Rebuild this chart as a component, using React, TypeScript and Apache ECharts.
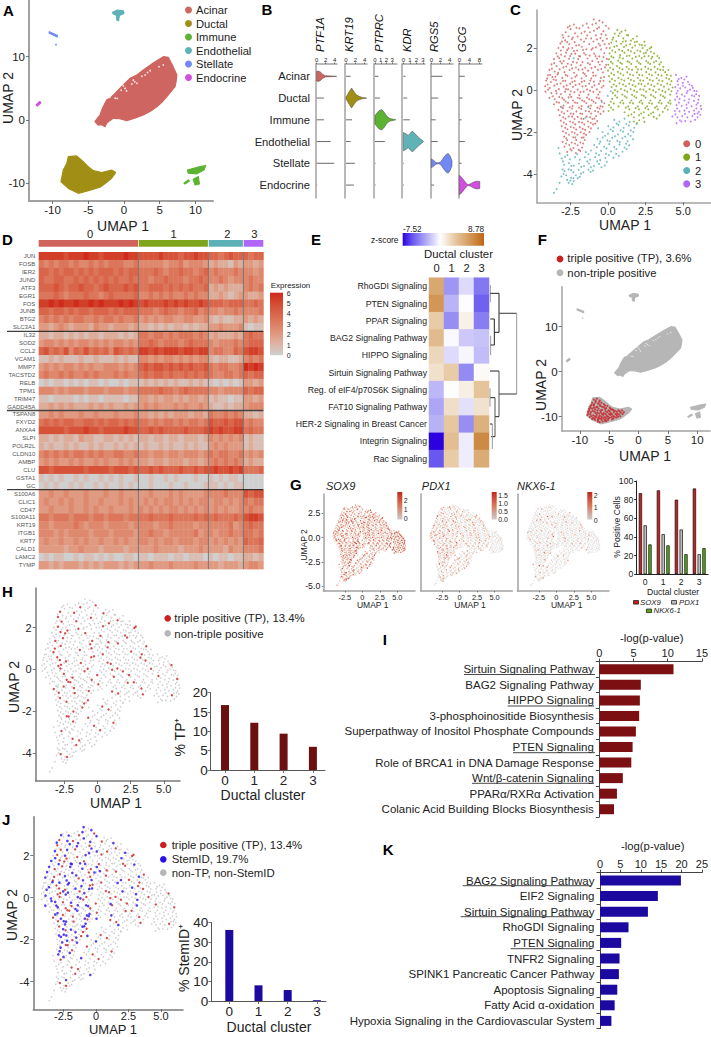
import React, { useEffect, useRef } from "react";
import * as echarts from "echarts";

const FONT = "'Liberation Sans', Arial, sans-serif";

// ---------- data ----------
const atlasNames = ["Acinar", "Ductal", "Immune", "Endothelial", "Stellate", "Endocrine"];
const atlasColors = ["#cf6560", "#a08f14", "#5cb331", "#5fb3b7", "#7289f5", "#d24ee0"];
const acinarOutline = [[-4.07,-0.26],[-3.7,0.3],[-3.36,0.79],[-3.0,1.9],[-2.43,3.16],[-1.9,3.5],[-1.26,4.2],[-0.3,5.3],[0.84,6.58],[1.8,7.1],[2.71,7.9],[4.1,9.0],[5.5,10],[6.2,9.9],[6.8,8.6],[7.4,7.1],[7.3,6.1],[7.15,5.26],[6,3.7],[5.3,2.8],[4.6,2.1],[3.7,1.4],[2.7,0.8],[1.5,0.3],[0.37,-0.1],[-0.6,0.2],[-1.5,0.26],[-2.0,-0.1],[-2.43,-0.53],[-2.66,-1.05],[-3.1,-0.75],[-3.6,-0.8]];
const acinarFlecks = [[1.3,6.3],[1.5,6.05],[0.15,5],[-0.1,5.4],[-0.95,3.4],[-2,3.6],[3.65,7.8],[2.95,7.1],[5.5,8.7],[-1.25,3.45],[1.8,5.8],[3.3,7.5],[0.35,4.6],[2.5,6.9],[4.9,8.4],[1.1,5.7],[-0.4,4.7]];
const ductalOutline = [[-7.8,-5.8],[-6.64,-5.68],[-5.7,-6.58],[-5.0,-7.4],[-4.3,-8],[-3.13,-8.3],[-1.73,-7.9],[-1.17,-8.3],[-1.73,-9.2],[-2.6,-10],[-3.36,-10.63],[-5,-11.16],[-6.4,-11.58],[-7.8,-10.8],[-8.83,-9.74],[-8.5,-7.9],[-8,-6.84]];
const immuneOutlines = [
  [[8.88,-7.9],[10.65,-7.37],[11.45,-7.2],[11.2,-7.9],[10.2,-8.5],[9,-8.4]],
  [[9.7,-9.37],[10.4,-8.95],[10.56,-10.1],[9.95,-10.26]],
  [[8.4,-10],[9,-9.47],[9.16,-9.63],[8.55,-10.1]],
];
const endothelialOutline = [[-1.6,17],[-0.93,17.37],[-0.1,17.26],[0,16.84],[-0.65,16.5],[-0.75,15.68],[-1.03,15.8],[-1.03,16.5],[-1.5,16.74]];
const stellateOutline = [[-10.47,13.95],[-9.35,13.4],[-9.35,13.1],[-10.47,13.7]];
const stellateDot = [[-9.53,11.9]];
const endocrineOutline = [[-12.3,2.4],[-11.8,2.95],[-11.65,2.7],[-12.15,2.2]];

const genesB = ["PTF1A", "KRT19", "PTPRC", "KDR", "RGS5", "GCG"];
const violinProfiles = [
  [[0,0.22],[0.3,0.24],[0.8,0.2],[1.3,0.1],[1.9,0.03],[4.4,0.006]],
  [[0,0.05],[0.3,0.15],[0.7,0.3],[1.2,0.46],[1.7,0.3],[2.2,0.15],[2.8,0.08],[3.5,0.03],[4.4,0.006]],
  [[0,0.2],[0.3,0.3],[0.7,0.42],[1.15,0.47],[1.6,0.35],[2.1,0.15],[2.6,0.06],[3.6,0.006]],
  [[0,0.42],[0.4,0.36],[0.75,0.28],[1.0,0.36],[1.4,0.48],[1.9,0.33],[2.4,0.18],[3.1,0.01]],
  [[0,0.2],[0.5,0.14],[1,0.04],[1.5,0.02],[2,0.05],[2.8,0.3],[3.3,0.42],[3.7,0.45],[4.1,0.33],[4.5,0.12]],
  [[0,0.45],[1,0.35],[2,0.2],[3,0.05],[3.6,0.02],[4.5,0.06],[6,0.15],[7,0.18],[8.2,0.16]],
];
// per gene: [row, tail length]
const violinTails = [
  [[1,1.6],[2,1.6],[3,3.1],[4,3.9],[5,0.1]],
  [[0,1],[2,1.3],[3,1],[4,1.9],[5,1.7]],
  [[0,0.6],[1,0.85],[3,1.7],[4,0.1],[5,0.1]],
  [[0,0.35],[1,0.6],[2,1],[4,0.1],[5,0.1]],
  [[0,2.4],[1,1.5],[2,0.95],[3,1.4],[5,0.6]],
  [[0,2.2],[1,1.3],[2,0.9],[3,2.2],[4,0.9]],
];
const violinTicks = [[0,2,4],[0,2,4],[0,1,2,3],[0,1,2,3],[0,2,4],[0,4,8]];

const cluster0Cells = [-0.95,3.36,-0.58,3.3,-0.8,3.17,-0.36,3.22,-0.14,3.06,-2.55,3.05,-2.27,3.12,-2.1,2.96,-1.68,3.07,-1.42,3.16,-1.04,3.12,-0.6,2.98,
-2.82,2.75,-2.49,2.9,-2.2,2.7,-1.9,2.93,-1.55,2.78,-1.3,2.97,-0.94,2.82,-0.72,2.92,-0.31,2.8,0.04,2.93,-2.98,2.5,-2.63,2.56,-2.4,2.42,-2.02,2.55,-1.8,2.4,-1.38,2.6,-1.12,2.46,-0.81,2.6,-0.5,2.47,-0.15,2.62,
-3.16,2.22,-2.85,2.36,-2.58,2.18,-2.22,2.28,-1.93,2.14,-1.6,2.3,-1.25,2.18,-0.97,2.31,-0.62,2.2,-0.35,2.34,0.06,2.2,-3.3,2.0,-2.98,2.04,-2.72,1.9,-2.38,2.0,-2.06,1.88,-1.74,2.06,-1.44,1.94,-1.1,1.92,-0.8,2.03,-0.46,1.93,-0.1,2.0,
-3.44,1.75,-3.12,1.68,-2.79,1.78,-2.52,1.62,-2.18,1.73,-1.86,1.6,-1.6,1.76,-1.22,1.64,-0.92,1.73,-0.58,1.6,-0.25,1.75,-3.6,1.47,-3.24,1.52,-2.95,1.38,-2.6,1.49,-2.33,1.34,-1.98,1.47,-1.7,1.33,-1.36,1.5,-1.05,1.38,-0.73,1.5,-0.4,1.36,-0.08,1.48,
-3.76,1.22,-3.42,1.14,-3.07,1.27,-2.78,1.12,-2.44,1.2,-2.14,1.07,-1.82,1.18,-1.52,1.06,-1.2,1.22,-0.86,1.1,-0.55,1.2,-0.2,1.08,-3.9,0.96,-3.55,0.88,-3.22,0.99,-2.9,0.85,-2.56,0.95,-2.26,0.82,-1.96,0.97,-1.65,0.82,-1.33,0.92,-1.0,0.83,-0.67,0.96,-0.34,0.84,
-4.0,0.7,-3.7,0.62,-3.35,0.74,-3.04,0.58,-2.7,0.67,-2.42,0.56,-2.08,0.7,-1.76,0.55,-1.46,0.66,-1.12,0.55,-0.82,0.68,-0.47,0.58,-4.12,0.45,-3.8,0.38,-3.46,0.47,-3.15,0.31,-2.84,0.44,-2.52,0.3,-2.22,0.42,-1.9,0.28,-1.58,0.43,-1.26,0.3,-0.94,0.4,-0.6,0.29,-0.3,0.44,
-4.19,0.18,-3.88,0.1,-3.57,0.21,-3.27,0.04,-2.95,0.16,-2.66,0.03,-2.33,0.15,-2.02,0.02,-1.7,0.17,-1.4,0.03,-1.06,0.14,-0.74,0.03,-0.42,0.12,-4.16,-0.08,-3.77,-0.15,-3.46,-0.04,-3.14,-0.2,-2.86,-0.08,-2.54,-0.22,-2.24,-0.1,-1.92,-0.24,-1.62,-0.08,-1.3,-0.22,-0.98,-0.09,-0.65,-0.22,
-3.9,-0.38,-3.55,-0.44,-3.24,-0.33,-2.94,-0.46,-2.62,-0.35,-2.33,-0.5,-2.02,-0.37,-1.72,-0.5,-1.4,-0.36,-1.08,-0.48,-0.76,-0.36,-0.44,-0.5,-3.6,-0.68,-3.26,-0.6,-2.96,-0.74,-2.66,-0.61,-2.36,-0.76,-2.05,-0.62,-1.76,-0.77,-1.44,-0.62,-1.14,-0.74,-0.82,-0.62,-0.5,-0.77,-0.24,-0.63,
-3.3,-0.95,-3.0,-0.86,-2.7,-1.0,-2.4,-0.88,-2.1,-1.02,-1.78,-0.9,-1.49,-1.0,-1.18,-0.88,-0.86,-1.0,-0.56,-0.88,-0.3,-1.02,-3.22,-1.2,-2.92,-1.12,-2.62,-1.26,-2.3,-1.14,-2.02,-1.28,-1.72,-1.14,-1.42,-1.26,-1.12,-1.12,-0.8,-1.24,-0.5,-1.14,
-3.14,-1.46,-2.83,-1.37,-2.53,-1.5,-2.23,-1.38,-1.93,-1.52,-1.63,-1.38,-1.34,-1.5,-1.04,-1.38,-0.72,-1.48,-3.08,-1.72,-2.78,-1.63,-2.48,-1.76,-2.18,-1.64,-1.88,-1.77,-1.58,-1.64,-1.3,-1.75,-1.0,-1.64,-3.0,-1.97,-2.7,-1.87,-2.4,-2.0,-2.12,-1.88,-1.82,-2.02,-1.52,-1.9,-1.24,-2.0,
-2.92,-2.22,-2.6,-2.13,-2.32,-2.25,-2.04,-2.13,-1.74,-2.27,-1.46,-2.14,-3.02,-2.47,-2.72,-2.38,-2.42,-2.5,-2.12,-2.38,-1.84,-2.5,-1.55,-2.38,-2.9,-2.7,-2.58,-2.62,-2.3,-2.76,-2.02,-2.63,-1.73,-2.74,-2.72,-2.95,-2.42,-2.88,-2.14,-3.0,-1.85,-2.9,
-3.02,2.62,-2.68,2.98,-2.34,2.5,-1.77,2.7,-1.21,2.75,-0.44,2.66,-0.07,2.44,-3.07,2.31,-2.71,2.28,-2.12,2.12,-1.47,2.45,-0.74,2.41,-0.23,2.18,-3.14,1.88,-2.63,1.98,-2.27,1.86,-1.67,1.9,-1.02,1.99,-0.53,2.12,-3.35,1.6,-2.87,1.6,-2.44,1.72,-2.08,1.3,-1.49,1.68,-0.83,1.61,-0.3,1.57,-3.58,1.28,-3.18,1.36,-2.68,1.25,-1.94,1.62,-1.34,1.28,-0.64,1.33,-0.12,1.2,-3.73,1.02,-3.32,0.82,-2.97,1.08,-2.39,1.03,-1.7,0.98,-1.1,1.04,-0.45,1.0,-3.86,0.72,-3.5,0.63,-2.82,0.72,-2.17,0.63,-1.55,0.76,-0.98,0.68,-0.26,0.62,-4.05,0.55,-3.62,0.5,-3.0,0.43,-2.38,0.38,-1.75,0.39,-1.18,0.45,-0.52,0.42,-4.02,0.26,-3.38,0.28,-2.75,0.22,-2.16,0.24,-1.48,0.2,-0.9,0.22,-0.31,0.2,-3.98,0.02,-3.42,-0.16,-2.8,0.04,-2.48,-0.06,-1.83,-0.1,-1.2,-0.03,-0.55,-0.1,-3.68,-0.3,-3.05,-0.38,-2.45,-0.33,-1.88,-0.4,-1.26,-0.44,-0.6,-0.4,-3.42,-0.58,-2.82,-0.55,-2.2,-0.6,-1.58,-0.54,-0.96,-0.55,-0.36,-0.8,-3.14,-0.8,-2.55,-0.82,-1.93,-0.84,-1.3,-0.78,-0.7,-0.84,-3.08,-1.05,-2.48,-1.12,-1.85,-1.12,-1.26,-1.02,-0.66,-1.04,-2.98,-1.3,-2.38,-1.27,-1.78,-1.36,-1.2,-1.3,-0.9,-1.36,-2.95,-1.55,-2.34,-1.55,-1.72,-1.55,-1.15,-1.56,-0.85,-1.6,-2.85,-1.8,-2.28,-1.8,-1.68,-1.85,-1.14,-1.83,-2.8,-2.05,-2.22,-2.05,-1.6,-2.08,-2.78,-2.3,-2.18,-2.26,-1.62,-2.26,-2.8,-2.55,-2.2,-2.55,-1.66,-2.55,-2.5,-2.82,-1.95,-2.85];
const cluster1Cells = [0.62,2.86,0.9,2.78,1.16,2.84,0.45,2.68,0.35,2.5,0.7,2.58,1.02,2.46,1.34,2.6,1.66,2.44,1.92,2.56,0.22,2.26,0.55,2.32,0.86,2.2,1.18,2.33,1.46,2.18,1.78,2.28,2.1,2.16,2.42,2.3,0.12,2.0,0.42,2.06,0.74,1.92,1.06,2.05,1.34,1.9,1.62,2.02,1.96,1.88,2.3,2.0,2.62,1.9,2.88,2.04,
0.1,1.74,0.48,1.8,0.8,1.66,1.1,1.78,1.42,1.63,1.76,1.76,2.08,1.62,2.38,1.75,2.7,1.62,3.06,1.74,0.06,1.46,0.36,1.54,0.68,1.4,1.0,1.5,1.3,1.36,1.62,1.5,1.94,1.38,2.24,1.52,2.55,1.38,2.88,1.5,3.2,1.38,3.4,1.52,
0.02,1.2,0.3,1.26,0.6,1.14,0.92,1.25,1.24,1.1,1.54,1.24,1.86,1.1,2.16,1.24,2.48,1.1,2.8,1.24,3.1,1.1,3.42,1.22,3.68,1.1,0.0,0.92,0.34,0.98,0.66,0.86,0.96,0.98,1.28,0.84,1.6,0.96,1.92,0.84,2.22,0.98,2.54,0.85,2.86,0.97,3.16,0.84,3.48,0.96,3.8,0.85,4.02,0.95,
0.06,0.66,0.4,0.72,0.7,0.58,1.02,0.7,1.34,0.56,1.66,0.7,1.98,0.57,2.28,0.7,2.6,0.57,2.92,0.7,3.24,0.56,3.56,0.68,3.88,0.57,4.18,0.68,0.12,0.4,0.46,0.44,0.76,0.32,1.08,0.45,1.4,0.3,1.72,0.43,2.04,0.3,2.34,0.44,2.66,0.3,2.98,0.44,3.3,0.3,3.62,0.42,3.94,0.3,4.22,0.42,
0.24,0.14,0.55,0.18,0.86,0.05,1.18,0.18,1.5,0.04,1.82,0.17,2.14,0.03,2.44,0.18,2.76,0.04,3.08,0.17,3.4,0.03,3.72,0.16,4.04,0.03,4.3,0.12,0.32,-0.14,0.64,-0.08,0.96,-0.22,1.28,-0.08,1.6,-0.23,1.92,-0.1,2.24,-0.24,2.54,-0.08,2.86,-0.23,3.18,-0.1,3.5,-0.24,3.82,-0.1,4.14,-0.22,
0.28,-0.42,0.6,-0.36,0.94,-0.5,1.24,-0.36,1.56,-0.5,1.88,-0.37,2.2,-0.5,2.5,-0.36,2.82,-0.5,3.14,-0.37,3.46,-0.5,3.78,-0.36,4.12,-0.5,0.06,-0.72,0.38,-0.64,0.7,-0.78,1.02,-0.64,1.34,-0.78,1.66,-0.64,1.98,-0.78,2.28,-0.64,2.6,-0.78,2.92,-0.65,3.24,-0.78,3.56,-0.64,3.88,-0.76,4.16,-0.65,
0.04,-1.0,0.34,-0.94,1.1,-1.06,1.42,-0.92,1.74,-1.06,2.06,-0.92,2.38,-1.06,2.68,-0.92,3.0,-1.06,3.32,-0.92,3.64,-1.04,3.98,-0.94,1.36,-1.22,1.72,-1.3,2.06,-1.2,2.36,-1.32,2.7,-1.2,3.04,-1.28,3.42,-1.2,1.72,-1.5,2.08,-1.44,2.42,-1.52,
0.78,2.7,1.25,2.62,1.52,2.35,0.3,2.4,0.98,2.3,1.92,2.3,2.25,2.14,0.58,2.1,1.2,2.12,1.8,2.12,2.46,2.12,2.78,1.98,0.28,1.88,0.95,1.86,1.52,1.84,2.15,1.84,2.52,1.78,2.85,1.82,0.22,1.6,0.78,1.55,1.25,1.62,1.85,1.58,2.42,1.6,2.95,1.58,3.28,1.62,0.2,1.34,0.82,1.3,1.42,1.32,2.05,1.3,2.66,1.3,3.05,1.32,3.52,1.32,0.14,1.06,0.76,1.05,1.38,1.0,1.98,0.98,2.68,1.02,3.3,1.0,3.66,0.95,0.22,0.8,0.84,0.78,1.46,0.74,2.08,0.72,2.74,0.75,3.34,0.72,3.92,0.72,0.26,0.52,0.9,0.5,1.52,0.48,2.14,0.46,2.78,0.48,3.4,0.46,4.06,0.52,0.38,0.26,1.0,0.26,1.64,0.24,2.22,0.28,2.88,0.24,3.52,0.24,4.14,0.26,0.46,0.0,1.1,-0.02,1.74,-0.03,2.36,0.02,3.0,-0.02,3.62,-0.04,4.22,-0.06,0.48,-0.26,1.12,-0.3,1.76,-0.3,2.38,-0.28,3.02,-0.3,3.66,-0.3,0.18,-0.56,0.82,-0.6,1.46,-0.6,2.1,-0.58,2.74,-0.62,3.38,-0.6,4.02,-0.6,0.2,-0.84,1.18,-0.84,1.84,-0.86,2.48,-0.86,3.12,-0.84,3.78,-0.86,1.56,-1.16,2.2,-1.12,2.86,-1.12,3.24,-1.36,1.92,-1.58];
const cluster2Cells = [0.42,-1.42,0.76,-1.5,1.1,-1.36,1.44,-1.52,0.02,-1.72,0.36,-1.78,0.7,-1.66,1.04,-1.8,1.38,-1.7,1.74,-1.8,1.9,-1.62,-0.36,-2.0,0.0,-2.08,0.32,-1.96,0.66,-2.12,1.0,-1.98,1.34,-2.1,1.68,-2.0,-0.7,-2.32,-0.36,-2.26,-0.04,-2.4,0.28,-2.28,0.62,-2.42,0.96,-2.3,1.3,-2.44,1.66,-2.34,
-0.92,-2.62,-0.58,-2.56,-0.26,-2.7,0.08,-2.58,0.42,-2.72,0.76,-2.6,1.1,-2.74,1.4,-2.64,-1.48,-2.96,-1.14,-2.88,-0.8,-3.02,-0.46,-2.9,-0.14,-3.04,0.2,-2.92,0.54,-3.04,0.96,-2.94,-3.3,-2.76,-3.22,-3.02,-3.08,-3.26,-2.86,-3.18,-2.54,-3.3,-2.2,-3.2,-1.88,-3.32,-1.54,-3.2,-1.2,-3.32,-0.86,-3.2,-0.52,-3.34,-0.18,-3.24,0.36,-3.22,
-2.92,-3.56,-2.6,-3.48,-2.28,-3.6,-1.94,-3.5,-1.6,-3.62,-1.28,-3.5,-0.94,-3.62,-0.6,-3.52,-0.22,-3.6,-2.9,-3.86,-2.62,-3.78,-2.3,-3.92,-1.96,-3.8,-1.64,-3.92,-1.3,-3.8,-1.0,-3.84,-3.1,-4.12,-2.78,-4.06,-2.46,-4.18,-2.14,-4.06,-1.88,-4.14,-2.62,-4.42,-2.38,-4.48,-2.28,-4.34,-3.6,-4.9,-3.42,-4.72,-3.22,-4.42,-0.02,-0.28,-0.42,-0.58,0.18,-0.06,-1.5,-1.32,-2.28,1.52,-1.32,-0.82,-3.08,-0.82,-0.66,-1.82,
0.58,-1.6,1.22,-1.62,0.18,-1.88,0.84,-1.92,1.52,-1.92,-0.2,-2.18,0.46,-2.2,1.14,-2.22,1.5,-2.18,-0.52,-2.46,0.12,-2.44,0.78,-2.48,1.2,-2.56,-0.74,-2.72,-0.1,-2.78,0.56,-2.82,1.24,-2.82,-1.3,-3.06,-0.6,-3.1,0.06,-3.1,0.72,-3.14,-2.7,-3.1,-2.05,-3.06,-1.38,-3.4,-0.72,-3.4,-0.08,-3.42,-3.0,-3.4,-2.44,-3.62,-1.78,-3.66,-1.14,-3.68,-0.44,-3.68,-3.02,-3.78,-2.46,-3.82,-1.8,-3.98,-1.16,-3.9,-2.96,-4.0,-2.3,-4.2,-2.72,-4.28,-2.5,-4.32,-2.02,-4.2];
const cluster3Cells = [4.52,0.72,4.88,0.58,5.22,0.64,4.62,0.42,4.98,0.34,5.32,0.38,5.58,0.2,4.48,0.14,4.8,0.08,5.14,0.12,5.46,0.02,5.74,-0.04,4.56,-0.16,4.92,-0.22,5.24,-0.14,5.58,-0.26,5.86,-0.2,4.46,-0.46,4.76,-0.42,5.08,-0.5,5.4,-0.44,5.72,-0.52,6.02,-0.46,4.56,-0.72,4.9,-0.76,5.22,-0.7,5.56,-0.78,5.88,-0.7,6.16,-0.76,4.44,-1.0,4.76,-1.02,5.08,-0.98,5.4,-1.04,5.72,-0.98,6.04,-1.04,6.2,-0.9,4.28,-1.26,4.62,-1.3,4.94,-1.24,5.28,-1.3,5.62,-1.24,5.96,-1.3,6.14,-1.18,4.56,-1.58,4.88,-1.5,5.5,-1.5,5.8,-1.42,
4.7,0.52,5.08,0.5,5.42,0.26,4.66,0.26,4.98,0.2,5.64,0.1,4.64,-0.04,5.3,-0.04,5.9,-0.06,4.6,-0.32,5.1,-0.3,5.74,-0.3,6.06,-0.28,4.72,-0.6,5.36,-0.6,5.98,-0.62,4.6,-0.88,5.24,-0.86,5.88,-0.88,4.48,-1.16,5.12,-1.14,5.76,-1.14,4.78,-1.44,5.14,-1.48,5.96,-1.12];

// cell marks per cluster: 0 neither, 1 triple positive, 2 StemID
const cellStatus = ["2002100200201020012002100202001020020100022010200102002010020210020010200201020010022001020100200120", "000100020000100000010000200100000010002000000100000200010000001000000201000000100020000100", "000001000000200000100000000010000002000100000000100000", "0000001000000000000000100000000000"];
// expression level per cluster, 0 none to 3 high
const sox9Levels = ["2123120213211232210312123112203212131221302132112231021231213221310212213112302122131213212301221321", "123212113220213122131203212311221320121322113021231122132011232121330212211302123121221301", "212103212311201221320122113021213122013212211302123112021321", "2323132233123223132323312232132332213223"];
const pdx1Levels = ["1020112013010210120011020110210031001021101200210110201001021032001201100211020010120102110200113021", "101200110020110012001021001100120010020100102100110020011001020100110021001001002001100010021001", "102100120010200110210012001021001102100102011001200102", "0010000010000001000010000000010000001000"];
const nkx6Levels = ["0010000200100000100000002000100100000030200001000010000020010000001000002000100000010000200000100100", "000010000200001000000100000100002000001000000200010000010000002000001000100000020000100000", "00100002000001000010000002000100000100000020000100", "00000100000020000000100000000100000020"];

const tpPercent = [16.8, 12.2, 9.4, 6];
const stemPercent = [36.3, 8, 5.6, 0.4];
const clusterIds = [0, 1, 2, 3];
const sox9Positive = [87, 90, 80, 92];
const pdx1Positive = [52.5, 43, 48, 21.5];
const nkx6Positive = [32, 31, 21.5, 28];

const heatGenes = ["JUN","FOSB","IER2","JUND","ATF3","EGR1","FOS","JUNB","BTG2","SLC3A1","IL32","SOD2","CCL2","VCAM1","MMP7","TACSTD2","RELB","TPM1","TRIM47","GADD45A","TSPAN8","FXYD2","ANXA4","SLPI","POLR2L","CLDN10","AMBP","CLU","GSTA1","GC","S100A6","CLIC1","CD47","S100A11","KRT19","ITGB1","KRT7","CALD1","LAMC2","TYMP"];
// one digit per column stripe (0-9 is expression 0-6); groups are clusters 0, 1, 2, 3
const heatRows = [
"88888788898878888988 77778777677877 6656766 6566","54545545445454555445 44444344534443 2322132 3323","66565665656566656566 55565455655456 4544454 4434","65566556565656565565 55455655545565 4454344 4544","66676566766567666767 55666565656556 2323222 4545","55565455565545655556 44545454454544 2232123 3223","88989889889898889898 78777878787787 6665666 5565","66566565665666565666 55545655455645 4434454 4445","45454545544545545445 34343443344334 2121122 3232","33234323332433233323 22121212212122 3343334 1011",
"22122121212212221212 55455454555454 2322232 5655","34434343443434344343 55654555456555 4344454 5666","67565746575656476565 88787888788788 4554465 7887","11212111211211121211 44343443434344 2122112 4545","34343443434334443434 67677676767667 5455445 9898","45445454454544454544 56566565565656 5445545 6566","01011010101101001011 12121212112121 1010101 3323","44434344434443444344 55556554565555 4434444 6566","11011110101101111011 33232332323323 1211011 3323","22323232223232322323 34343334343343 2112122 3444",
"33434333433433343334 33232323332332 5445454 2212","56565665566565665656 55454554545545 7667677 4544","77777677787767777877 66767666676667 8787788 5655","22121221322112212121 22122122122212 4343434 1211","21211212112121121212 12112121121211 3434333 1211","45454545545454455445 44344344344434 5455445 3434","34343343433434334343 33233233323323 4545454 2322","77677777767777677767 66767666766767 7877878 5556","10101001010010101001 00100101000100 1010110 0000","01010010100101001010 00100010010001 1101011 0000",
"33433433343334334333 33433343433334 4445444 7677","34334343343343334343 34343443434344 3443434 5455","33433343343433433343 43434344343434 3434334 4544","55455545554554555455 55655565555656 5655565 7887","44344445434443444434 44434454444344 4444534 5655","44434344443444344443 44544344444534 4344544 5545","34334334343343343433 44343443444344 3434343 6556","33333233433323333233 33343333233343 3332433 4445","01011001011010100110 11011101101110 1011011 2212","33232333232323332323 33433343333433 3323332 3443"];

const pathways = ["RhoGDI Signaling","PTEN Signaling","PPAR Signaling","BAG2 Signaling Pathway","HIPPO Signaling","Sirtuin Signaling Pathway","Reg. of eIF4/p70S6K Signaling","FAT10 Signaling Pathway","HER-2 Signaling in Breast Cancer","Integrin Signaling","Rac Signaling"];
const pathwayZ = [[5,-3.5,-1.2,-4.5],[6,-2.5,0,-5.2],[2.8,-3.8,0.8,-4.3],[3.8,-0.2,-1.8,-2],[2.2,-1.2,-0.3,-2.2],[1.7,2.8,-3.9,0.3],[-2.4,0,0.9,3.2],[-3,1.8,-1,1.6],[-2.6,3,-3.8,4.4],[-7.5,3.6,-0.6,6.8],[-5.5,2.8,-0.6,4.8]];

const tripleCells = [-7.6,-6.2,-7.1,-6.0,-6.6,-6.4,-7.9,-6.9,-7.3,-6.8,-6.9,-7.1,-6.3,-6.9,-5.9,-7.2,-8.2,-7.7,-7.6,-7.5,-7.0,-7.8,-6.5,-7.6,-5.9,-7.9,-5.3,-7.6,-4.9,-8.0,-8.4,-8.3,-7.9,-8.2,-7.4,-8.4,-6.8,-8.2,-6.2,-8.5,-5.7,-8.3,-5.1,-8.6,-4.5,-8.4,-4.0,-8.7,-3.4,-8.6,-8.6,-8.9,-8.1,-9.0,-7.5,-8.9,-7.0,-9.1,-6.4,-9.0,-5.9,-9.2,-5.3,-9.0,-4.7,-9.2,-4.2,-9.0,-3.6,-9.3,-3.0,-9.1,-2.5,-9.0,-8.7,-9.6,-8.2,-9.5,-7.7,-9.7,-7.1,-9.6,-6.6,-9.8,-6.0,-9.6,-5.4,-9.8,-4.8,-9.6,-4.3,-9.9,-3.7,-9.7,-3.1,-9.9,-8.3,-10.1,-7.7,-10.3,-7.2,-10.1,-6.6,-10.4,-6.0,-10.2,-5.5,-10.4,-4.9,-10.2,-4.3,-10.4,-3.8,-10.2,-7.4,-10.7,-6.9,-10.8,-6.3,-10.7,-5.7,-10.9,-5.2,-10.7,-6.6,-11.2,-6.1,-11.1,
-7.3,-6.5,-6.7,-6.7,-7.6,-7.2,-6.6,-7.3,-5.7,-7.5,-8.0,-7.4,-7.2,-7.9,-6.2,-7.8,-5.5,-8.1,-4.7,-8.3,-8.2,-8.0,-7.6,-8.0,-7.0,-8.6,-6.5,-8.6,-5.6,-8.8,-4.9,-8.8,-4.3,-8.5,-3.7,-8.9,-3.2,-8.8,-2.8,-8.6,-8.4,-8.7,-7.8,-8.7,-7.3,-9.2,-6.7,-9.3,-6.2,-9.4,-5.6,-9.4,-5.0,-9.4,-4.5,-9.5,-3.9,-9.4,-3.3,-9.5,-2.7,-9.4,-8.5,-9.3,-8.0,-9.9,-7.4,-9.9,-6.8,-10.1,-6.3,-10.0,-5.7,-10.1,-5.2,-10.0,-4.6,-10.1,-4.1,-10.0,-3.5,-10.0,-7.9,-10.5,-7.5,-10.4,-6.9,-10.5,-6.3,-10.4,-5.8,-10.6,-5.1,-10.4,-4.5,-10.6,-6.9,-11.1,-5.5,-11.0];

const pathwaysI = ["Sirtuin Signaling Pathway","BAG2 Signaling Pathway","HIPPO Signaling","3-phosphoinositide Biosynthesis","Superpathway of Inositol Phosphate Compounds","PTEN Signaling","Role of BRCA1 in DNA Damage Response","Wnt/β-catenin Signaling","PPARα/RXRα Activation","Colanic Acid Building Blocks Biosynthesis"];
const valuesI = [10.85,6.07,5.93,5.83,5.35,4.87,4.68,3.44,2.58,2.15];
const pathwaysK = ["BAG2 Signaling Pathway","EIF2 Signaling","Sirtuin Signaling Pathway","RhoGDI Signaling","PTEN Signaling","TNFR2 Signaling","SPINK1 Pancreatic Cancer Pathway","Apoptosis Signaling","Fatty Acid α-oxidation","Hypoxia Signaling in the Cardiovascular System"];
const valuesK = [19.85,14.2,11.76,7,5.2,4.8,4.64,4.24,3.6,2.8];

// ---------- styles ----------
const clusterColors = ["#d0625c", "#7fa51c", "#5cb1b7", "#b066f7"];
const heatStops = ["#cfcfcf", "#dcb6a8", "#e09a82", "#dd7f64", "#d9654a", "#d44a30", "#cf2a1c"];
const exprColors = ["#dddddd", "#e6bcaa", "#d97f62", "#c0331f"];
const zStops: [number, string][] = [[-7.52,"#2a00e0"],[-5.5,"#6a58ef"],[-3.5,"#9f96f4"],[-1.5,"#d5d1fa"],[0,"#ffffff"],[1.5,"#f2e4d2"],[3,"#e6c7a0"],[5,"#d9a870"],[7,"#cb873f"],[8.78,"#bf6518"]];
const AXIS = "#a2a2a2";
const INK = "#222222";
const RED = "#cc1f22";
const GREY = "#b6b6b6";
const BLUE = "#2a10e8";

const pairs = (f: number[]) => { const o: number[][] = []; for (let i = 0; i + 1 < f.length; i += 2) o.push([f[i], f[i + 1]]); return o; };
const zColor = (v: number) => {
  for (let i = 0; i < zStops.length - 1; i++) {
    const [a, ca] = zStops[i], [b, cb] = zStops[i + 1];
    if (v <= b) return echarts.color.lerp(Math.max(0, (v - a) / (b - a)), [ca, cb]);
  }
  return zStops[zStops.length - 1][1];
};

function buildOption() {
  const grid: any[] = [], xAxis: any[] = [], yAxis: any[] = [], series: any[] = [], gfx: any[] = [];
  const txt = (x: number, y: number, text: string, size = 11, o: any = {}) => gfx.push({ type: "text", x, y, rotation: o.rotate || 0, silent: true, z: 50, style: { text, fontSize: size, fontFamily: FONT, fontWeight: o.bold ? "bold" : "normal", fontStyle: o.italic ? "italic" : "normal", fill: o.color || INK, align: o.align || "left", verticalAlign: "middle", textAlign: o.align || "left", textVerticalAlign: "middle" } });
  const dot = (x: number, y: number, fill: string, r = 3.4) => gfx.push({ type: "circle", silent: true, z: 50, shape: { cx: x, cy: y, r }, style: { fill } });
  const seg = (x1: number, y1: number, x2: number, y2: number, stroke = "#222", lineWidth = 1) => gfx.push({ type: "line", silent: true, z: 50, shape: { x1, y1, x2, y2 }, style: { stroke, lineWidth } });
  const gradBar = (x: number, y: number, w: number, h: number, colors: string[], vertical: boolean) => gfx.push({ type: "rect", silent: true, z: 50, shape: { x, y, width: w, height: h }, style: { fill: new echarts.graphic.LinearGradient(0, vertical ? 1 : 0, vertical ? 0 : 1, 0, colors.map((color, i) => ({ offset: i / (colors.length - 1), color }))) } });

  const cart = (o: any) => {
    const i = grid.length;
    grid.push({ left: o.l, top: o.t, width: o.r - o.l, height: o.b - o.t });
    const mk = (ticks: any[], size: number, margin: number, showLine: boolean, tl: number) => {
      const values = ticks.map((k) => k[0]); const map = new Map(ticks.map((k) => [k[0], k[1]]));
      return {
        gridIndex: i, type: "value", splitLine: { show: false },
        axisLine: { show: showLine, onZero: false, lineStyle: { color: o.axis || AXIS, width: o.lw || 1.5 } },
        axisTick: { show: values.length > 0 && tl > 0, customValues: values, length: tl, lineStyle: { color: o.tickColor || "#555", width: 0.8 } },
        axisLabel: { show: values.length > 0, customValues: values, fontSize: size, margin, color: INK, fontFamily: FONT, formatter: (v: number) => String(map.get(v) ?? "") },
      };
    };
    xAxis.push({ ...mk(o.xt || [], o.xf || 11, o.xm ?? 4, o.xLine !== false, o.xtl ?? 3), position: o.xTop ? "top" : "bottom", min: (o.l - o.x0) / o.ux, max: (o.r - o.x0) / o.ux });
    yAxis.push({ ...mk(o.yt || [], o.yf || 11, o.ym ?? 4, o.yLine !== false, o.ytl ?? 3), inverse: !!o.inv, min: o.inv ? (o.t - o.y0) / o.uy : (o.y0 - o.b) / o.uy, max: o.inv ? (o.b - o.y0) / o.uy : (o.y0 - o.t) / o.uy });
    return i;
  };
  const scatter = (g: number, data: number[][], size: number, color: string) => series.push({ type: "scatter", xAxisIndex: g, yAxisIndex: g, data, symbolSize: size, itemStyle: { color }, silent: true });
  const poly = (g: number, outline: number[][], fill: string, stroke = fill, lineWidth = 1.2) => series.push({
    type: "custom", xAxisIndex: g, yAxisIndex: g, coordinateSystem: "cartesian2d", data: outline, silent: true, clip: false,
    renderItem: (p: any, api: any) => p.dataIndex !== 0 ? null : ({ type: "polygon", shape: { points: outline.map((q) => api.coord(q)) }, style: { fill, stroke, lineWidth, lineJoin: "round" } }),
  });
  const letter = (x: number, y: number, s: string) => txt(x, y, s, 15, { bold: true, color: "#000" });

  // ---- A
  const tickA: any[] = [-10, -5, 0, 5, 10].map((v) => [v, String(v)]);
  const ytA: any[] = [-10, 0, 10].map((v) => [v, String(v)]);
  const A = cart({ l: 29, t: 0, r: 213, b: 201, x0: 124, ux: 7.14, y0: 120, uy: 6.33, xt: tickA, yt: ytA, lw: 2, xf: 11.5, yf: 11.5, xm: 3 });
  poly(A, acinarOutline, atlasColors[0]); scatter(A, acinarFlecks, 1.8, "#ffffff");
  poly(A, ductalOutline, atlasColors[1]);
  immuneOutlines.forEach((o) => poly(A, o, atlasColors[2]));
  poly(A, endothelialOutline, atlasColors[3]); poly(A, stellateOutline, atlasColors[4]); scatter(A, stellateDot, 2, atlasColors[4]); poly(A, endocrineOutline, atlasColors[5]);
  atlasNames.forEach((n, i) => { const y = 10 + i * 13.5; dot(188.5, y, atlasColors[i], 3.5); txt(196, y, n, 11.2); });
  txt(7.5, 98, "UMAP 2", 14, { rotate: Math.PI / 2, align: "center" }); txt(123, 226, "UMAP 1", 14, { align: "center" });
  letter(3, 10, "A");

  // ---- B
  const bx = [[316, 337, 316.7, 4.5], [345, 367, 346, 4.67], [374, 397, 375, 5.75], [402, 425, 403.3, 6.5], [430.7, 453, 431.3, 4.6], [458.7, 481.7, 459.3, 2.5]];
  const geneLabelX = [319.5, 349, 378.5, 406.5, 434.3, 462];
  genesB.forEach((gene, k) => {
    const [l, r, x0, ux] = bx[k];
    const g = cart({ l, r, x0, ux, t: 64, b: 198, y0: 76.3, uy: 21.75, inv: true, xTop: true, xt: violinTicks[k].map((v) => [v, String(v)]), xf: 6, xm: 1, xtl: 1.5, lw: 1.5, ytl: 0,
      yt: k === 0 ? atlasNames.map((n, i) => [i, n]) : [], yf: 11.2, ym: 6 });
    const tails = violinTails[k];
    series.push({ type: "custom", xAxisIndex: g, yAxisIndex: g, coordinateSystem: "cartesian2d", data: tails.map((t) => [t[1], t[0]]), silent: true,
      renderItem: (_p: any, api: any) => { const a = api.coord([0, api.value(1)]), b = api.coord([api.value(0), api.value(1)]); return { type: "line", shape: { x1: a[0], y1: a[1], x2: b[0], y2: b[1] }, style: { stroke: "#444", lineWidth: 0.8 } }; } });
    const prof = violinProfiles[k];
    const outline = [...prof.map((q) => [q[0], k - q[1]]), ...[...prof].reverse().map((q) => [q[0], k + q[1]])];
    poly(g, outline, atlasColors[k], "#444", 0.5);
    txt(geneLabelX[k], 52, gene, 11.2, { italic: true, rotate: Math.PI / 2, color: "#111" });
  });
  letter(261.5, 9, "B");

  // ---- UMAP cells
  const cells = [pairs(cluster0Cells), pairs(cluster1Cells), pairs(cluster2Cells), pairs(cluster3Cells)];
  const pick = (codes: string[], wanted: string) => cells.flatMap((c, k) => c.filter((_p, i) => codes[k].charAt(i % codes[k].length) === wanted));
  const tpCells = pick(cellStatus, "1"), stemCells = pick(cellStatus, "2"), restCells = pick(cellStatus, "0");

  // ---- C
  const C = cart({ l: 536.7, t: 10, r: 711, b: 202.3, x0: 608, ux: 15.03, y0: 90, uy: 21, lw: 1.5, xm: 3,
    xt: [[-2.5,"-2.5"],[0,"0.0"],[2.5,"2.5"],[5,"5.0"]], yt: [[2,"2"],[0,"0"],[-2,"-2"],[-4,"-4"]] });
  cells.forEach((c, i) => scatter(C, c, 1.9, clusterColors[i]));
  ["0","1","2","3"].forEach((s, i) => { const y = 143.7 + i * 13.4; dot(686.7, y, clusterColors[i], 3.5); txt(695, y, s, 11.2); });
  txt(517, 115, "UMAP 2", 14, { rotate: Math.PI / 2, align: "center" }); txt(625, 225, "UMAP 1", 14, { align: "center" });
  letter(510, 9, "C");

  // ---- D
  const heatClean = heatRows.map((r) => r.replace(/ /g, ""));
  const nCols = heatClean[0].length;
  const heatData: number[][] = [];
  heatClean.forEach((r, row) => r.split("").forEach((d, c) => heatData.push([c, row, Number(d) * 6 / 9])));
  const D = grid.length;
  grid.push({ left: 38.7, top: 252, width: 224.6, height: 317 });
  xAxis.push({ gridIndex: D, type: "value", min: 0, max: nCols, show: false });
  yAxis.push({ gridIndex: D, type: "category", inverse: true, data: heatGenes, axisLine: { show: false }, axisTick: { show: false }, axisLabel: { interval: 0, fontSize: 6, color: "#555", margin: 3.4, fontFamily: FONT } });
  series.push({ type: "custom", xAxisIndex: D, yAxisIndex: D, coordinateSystem: "cartesian2d", silent: true, data: heatData, encode: { x: 0, y: 1 },
    renderItem: (_p: any, api: any) => {
      const c = api.value(0), a = api.coord([c, api.value(1)]), b = api.coord([c + 1, api.value(1)]), h = api.size([1, 1])[1];
      return { type: "rect", shape: { x: a[0], y: a[1] - h / 2, width: b[0] - a[0] + 0.4, height: h + 0.4 }, style: { fill: echarts.color.lerp(api.value(2) / 6, heatStops) } };
    } });
  [[38.7, 138, "0", 90], [138.7, 207.9, "1", 173.7], [208.7, 242.9, "2", 227.3], [243.7, 263.3, "3", 254.3]].forEach((b: any, i) => {
    gfx.push({ type: "rect", silent: true, z: 50, shape: { x: b[0], y: 240, width: b[1] - b[0], height: 6.7 }, style: { fill: clusterColors[i] } });
    txt(b[3], 233.5, b[2], 11.2, { align: "center" });
  });
  [138.4, 208.4, 243.4].forEach((x) => seg(x, 252, x, 569, "#777", 1));
  seg(7, 331.3, 263.3, 331.3, "#111", 1); seg(7, 410.5, 263.3, 410.5, "#444", 1.4); seg(7, 489.7, 263.3, 489.7, "#111", 1);
  txt(270.7, 285.5, "Expression", 8);
  gradBar(270, 292.7, 13, 62.5, heatStops, true);
  ["6","5","4","3","2","1","0"].forEach((s, i) => txt(286.7, 293 + i * 10.4, s, 7));
  letter(2, 239, "D");

  // ---- E
  const E = grid.length;
  grid.push({ left: 429, top: 277.7, width: 60, height: 189.6 });
  xAxis.push({ gridIndex: E, type: "category", position: "top", data: clusterIds.map(String), axisLine: { show: false }, axisTick: { show: false }, axisLabel: { fontSize: 11.2, margin: 4, color: INK, fontFamily: FONT } });
  yAxis.push({ gridIndex: E, type: "category", inverse: true, data: pathways, axisLine: { show: false }, axisTick: { show: false }, axisLabel: { interval: 0, fontSize: 8.7, margin: 2, color: INK, fontFamily: FONT } });
  const heatSeriesIndex = series.length;
  series.push({ type: "heatmap", xAxisIndex: E, yAxisIndex: E, silent: true, data: pathwayZ.flatMap((r, y) => r.map((v, x) => [x, y, v])) });
  const zRampValues = Array.from({ length: 49 }, (_v, i) => -7.52 + (16.3 * i) / 48);
  const visualMap = [{ type: "continuous", show: false, min: -7.52, max: 8.78, dimension: 2, seriesIndex: heatSeriesIndex, inRange: { color: zRampValues.map(zColor) } }];
  gradBar(402.7, 233, 81.3, 12.7, zRampValues.map(zColor), false);
  txt(403, 229, "-7.52", 8.2); txt(484, 229, "8.78", 8.2, { align: "right" }); txt(398.5, 240, "z-score", 8.4, { align: "right" });
  txt(458.5, 254, "Ductal cluster", 11.4, { align: "center" });
  letter(311, 239, "E");
  const dz = (pts: number[][], stroke = "#222", lineWidth = 1) => gfx.push({ type: "polyline", silent: true, z: 50, shape: { points: pts.map((p) => [300 + p[0] / 3, 225 + p[1] / 3]) }, style: { stroke, lineWidth, fill: "none" } });
  dz([[571,180],[571,232]], "#999"); dz([[571,205],[597,205]]); dz([[597,205],[597,322]]); dz([[571,282],[583,282],[583,322],[597,322]]);
  dz([[572,332],[572,390]], "#999"); dz([[572,360],[583,360],[583,322]]); dz([[597,265],[650,265]], "#555", 1.2); dz([[650,265],[650,507]], "#999"); dz([[597,507],[650,507]], "#555", 1.2);
  dz([[597,438],[597,575]], "#555"); dz([[570,438],[597,438]]); dz([[585,575],[597,575]]); dz([[585,518],[585,635]], "#555"); dz([[570,518],[585,518]]); dz([[570,490],[570,545]], "#999"); dz([[573,635],[585,635]]); dz([[577,597],[577,672]], "#999"); dz([[570,597],[577,597]]);

  // ---- F
  const F = cart({ l: 561.7, t: 286.7, r: 710, b: 431, x0: 638.5, ux: 5.87, y0: 371.7, uy: 4.5, lw: 1.5, xt: tickA, yt: ytA, xf: 11.5, yf: 11.5, xm: 3 });
  poly(F, acinarOutline, GREY); scatter(F, acinarFlecks, 1.2, "#ffffff"); poly(F, ductalOutline, GREY);
  immuneOutlines.forEach((o) => poly(F, o, GREY)); poly(F, endothelialOutline, GREY); poly(F, stellateOutline, GREY); scatter(F, stellateDot, 1.5, GREY); poly(F, endocrineOutline, GREY);
  scatter(F, pairs(tripleCells), 2.2, RED);
  dot(560, 259, RED, 3.4); txt(567.3, 257.8, "triple positive (TP), 3.6%", 11.4);
  dot(560, 272.7, GREY, 3.4); txt(567.3, 273, "non-triple positive", 11.4);
  txt(541, 385, "UMAP 2", 14, { rotate: Math.PI / 2, align: "center" }); txt(645, 456, "UMAP 1", 14, { align: "center" });
  letter(537.7, 239, "F");

  // ---- G
  const levels = [sox9Levels, pdx1Levels, nkx6Levels];
  const geneTitles = ["SOX9", "PDX1", "NKX6-1"];
  const offs = [0, 97.3, 194];
  const bars = [[397.3, ["2","1","0"], [500, 509, 518.3]], [491.7, ["1.5","1.0","0.5","0.0"], [495, 503.3, 511.7, 519]], [587.3, ["2","1","0"], [495.7, 507.7, 520]]] as any[];
  const xtG = [[-2.5,"-2.5"],[0,"0"],[2.5,"2.5"],[5,"5.0"]];
  levels.forEach((lv, k) => {
    const g = cart({ l: 323.3 + offs[k], r: 415 + offs[k], t: 494, b: 591, x0: 362.3 + offs[k], ux: 7, y0: 537.7, uy: 9.7, lw: 1.5, xt: xtG, xf: 7.4, yf: 8.8, xm: 2.5, ym: 3, xtl: 1.5, ytl: k === 0 ? 1.5 : 0,
      yt: k === 0 ? [[2.5,"2.5"],[0,"0.0"],[-2.5,"-2.5"],[-5,"-5.0"]] : [] });
    ["0", "1", "2", "3"].forEach((L, j) => scatter(g, pick(lv, L), 1.4, exprColors[j]));
    txt(326 + offs[k] - (k === 2 ? 3 : k === 1 ? 1.5 : 0), 485.7, geneTitles[k], 11, { italic: true });
    txt(372.7 + offs[k], 604.5, "UMAP 1", 8.5, { align: "center" });
    const b = bars[k];
    gradBar(b[0], 492, 5, 27.5, ["#cccccc", "#d9785c", "#c0281c"], true);
    b[1].forEach((s: string, i: number) => txt(b[0] + 6.5, b[2][i], s, 7));
  });
  txt(304, 545, "UMAP 2", 8.5, { rotate: Math.PI / 2, align: "center" });
  letter(290, 484, "G");
  const GB = grid.length;
  grid.push({ left: 636.2, top: 481, width: 72, height: 93.3 });
  xAxis.push({ gridIndex: GB, type: "category", data: clusterIds.map(String), axisLine: { lineStyle: { color: "#222", width: 1 } }, axisTick: { alignWithLabel: true, length: 2, lineStyle: { color: "#222" } }, axisLabel: { fontSize: 8.6, margin: 3, color: INK, fontFamily: FONT } });
  yAxis.push({ gridIndex: GB, type: "value", min: 0, max: 100, interval: 20, splitLine: { show: false }, axisLine: { show: true, lineStyle: { color: "#222", width: 1 } }, axisTick: { show: true, length: 2, lineStyle: { color: "#222" } }, axisLabel: { fontSize: 8.6, margin: 3, color: INK, fontFamily: FONT } });
  [[sox9Positive, "#c8201f"], [pdx1Positive, "#bdbdbd"], [nkx6Positive, "#59a81a"]].forEach((s: any) => series.push({ type: "bar", xAxisIndex: GB, yAxisIndex: GB, data: s[0], barWidth: 3.3, barGap: "45%", silent: true, itemStyle: { color: s[1], borderColor: "#111", borderWidth: 0.7 } }));
  txt(616.7, 527, "% Positive Cells", 8.6, { rotate: Math.PI / 2, align: "center" });
  txt(673, 592, "Ductal cluster", 8.6, { align: "center" });
  const swatch = (x: number, y: number, fill: string) => gfx.push({ type: "rect", silent: true, z: 50, shape: { x, y, width: 5, height: 3.6 }, style: { fill, stroke: "#111", lineWidth: 0.7 } });
  swatch(633.5, 600.5, "#c8201f");
  txt(640, 602.3, "SOX9", 7.8, { italic: true });
  swatch(671.5, 600.5, "#bdbdbd");
  txt(679, 602.3, "PDX1", 7.8, { italic: true });
  swatch(646.5, 609, "#59a81a");
  txt(653.5, 610.8, "NKX6-1", 7.8, { italic: true });

  // ---- H
  const xtH = [[-2.5,"-2.5"],[0,"0"],[2.5,"2.5"],[5,"5.0"]];
  const ytH = [[2,"2"],[0,"0"],[-2,"-2"],[-4,"-4"]];
  const H = cart({ l: 35.7, t: 588, r: 180, b: 781, x0: 97.5, ux: 13.25, y0: 669.3, uy: 20.9, xt: xtH, yt: ytH, lw: 1.5, axis: "#7a7a7a", xm: 2 });
  scatter(H, [...restCells, ...stemCells], 1.6, "#c0c0c0");
  scatter(H, tpCells, 2.4, RED);
  dot(167.7, 618.3, RED, 3.3);
  txt(174.3, 618, "triple positive (TP), 13.4%", 11.4);
  dot(167.7, 633.3, GREY, 3.3);
  txt(174.3, 633.5, "non-triple positive", 11.4);
  txt(14, 687, "UMAP 2", 14, { rotate: Math.PI / 2, align: "center" });
  txt(116, 803, "UMAP 1", 14, { align: "center" });
  letter(2, 591.7, "H");
  const barPanel = (o: any, values: number[], yTicks: number[], color: string) => {
    const g = cart({ ...o, axis: "#555", lw: 1, xt: clusterIds.map((v) => [v, String(v)]), yt: yTicks.map((v) => [v, String(v)]), xf: 13.5, yf: 13.5, xm: 3, ym: 3, tickColor: "#555" });
    series.push({ type: "bar", xAxisIndex: g, yAxisIndex: g, data: values.map((v, i) => [i, v]), barWidth: 8, silent: true, itemStyle: { color } });
  };
  barPanel({ l: 210.7, r: 325, t: 692.5, b: 770, x0: 225, ux: 29.3, y0: 770, uy: 3.865 }, tpPercent, [0, 5, 10, 15, 20], "#6b0f10");
  txt(263, 795, "Ductal cluster", 14, { align: "center" });
  txt(180, 737, "% TP⁺", 14, { rotate: Math.PI / 2, align: "center" });

  // ---- I and K
  const hbar = (names: string[], values: number[], l: number, r: number, t: number, b: number, xMax: number, step: number, color: string) => {
    const g = grid.length;
    grid.push({ left: l, top: t, width: r - l, height: b - t });
    xAxis.push({ gridIndex: g, type: "value", position: "top", min: 0, max: xMax, interval: step, splitLine: { show: false }, axisLine: { show: true, onZero: false, lineStyle: { color: "#444", width: 1 } }, axisTick: { show: true, length: 3, lineStyle: { color: "#444" } }, axisLabel: { fontSize: 11, margin: 3, color: INK, fontFamily: FONT } });
    yAxis.push({ gridIndex: g, type: "category", inverse: true, data: names, axisLine: { show: true, lineStyle: { color: "#444", width: 1 } }, axisTick: { show: true, length: 3.5, lineStyle: { color: "#444" } }, axisLabel: { interval: 0, fontSize: 11.5, margin: 5.5, color: INK, fontFamily: FONT } });
    series.push({ type: "bar", xAxisIndex: g, yAxisIndex: g, data: values, barWidth: 10, silent: true, itemStyle: { color } });
  };
  hbar(pathwaysI, valuesI, 599.3, 704, 661.5, 817, 15, 5, "#7b0f12");
  txt(651.7, 637.7, "-log(p-value)", 11.3, { align: "center" });
  letter(382.7, 639, "I");
  [[464, 595, 674.5], [507.7, 594, 706], [513, 595, 752.7], [472, 594, 783.3]].forEach((u) => seg(u[0], u[2], u[1], u[2], "#333", 0.9));
  hbar(pathwaysK, valuesK, 600, 704, 872.7, 1028.7, 25, 5, "#1c0aa0");
  txt(652.7, 846, "-log(p-value)", 11.3, { align: "center" });
  letter(382.7, 849, "K");
  [[462.7, 591.3, 885.7], [460.7, 591.3, 916.7], [510.7, 591.7, 948.7]].forEach((u) => seg(u[0], u[2], u[1], u[2], "#333", 0.9));

  // ---- J
  const J = cart({ l: 33.3, t: 816.7, r: 183, b: 1009.3, x0: 96, ux: 13, y0: 897.7, uy: 21, xt: xtH, yt: ytH, lw: 1.5, axis: "#7a7a7a", xm: 1 });
  scatter(J, restCells, 1.6, "#c0c0c0");
  scatter(J, tpCells, 2.4, RED);
  scatter(J, stemCells, 2.6, BLUE);
  [[RED, "triple positive (TP), 13.4%", 845], [BLUE, "StemID, 19.7%", 859.3], [GREY, "non-TP, non-StemID", 872.7]].forEach((r: any) => { dot(163.3, r[2], r[0], 3.3); txt(171.7, r[2], r[1], 11.4); });
  txt(12, 915, "UMAP 2", 14, { rotate: Math.PI / 2, align: "center" });
  txt(113, 1029.5, "UMAP 1", 13, { align: "center" });
  letter(2, 819, "J");
  barPanel({ l: 211.3, r: 326, t: 922.5, b: 1001, x0: 229.3, ux: 29.2, y0: 1001, uy: 1.9575 }, stemPercent, [0, 10, 20, 30, 40], "#1c0aa0");
  txt(269, 1027, "Ductal cluster", 14, { align: "center" });
  txt(184, 958, "% StemID⁺", 14, { rotate: Math.PI / 2, align: "center" });

  return { animation: false, backgroundColor: "#ffffff", textStyle: { fontFamily: FONT }, visualMap, grid, xAxis, yAxis, series, graphic: { elements: gfx } };
}

export default function App() {
  const ref = useRef<HTMLDivElement>(null);
  useEffect(() => {
    const chart = echarts.init(ref.current!, undefined, { renderer: "svg" });
    chart.setOption(buildOption());
    return () => chart.dispose();
  }, []);
  return <div ref={ref} style={{ position: "absolute", left: 0, top: 0, width: 711, height: 1037 }} />;
}
